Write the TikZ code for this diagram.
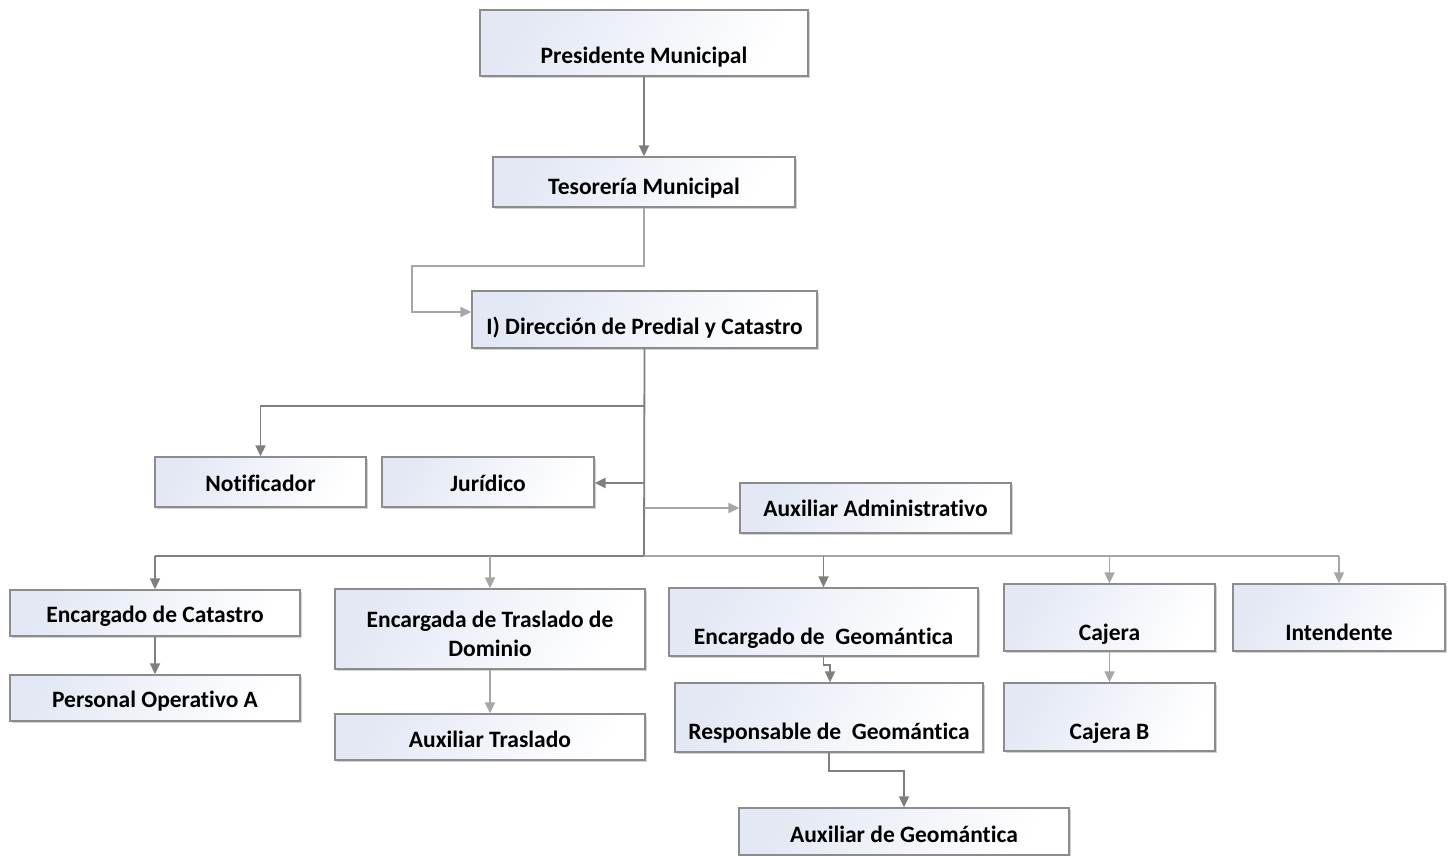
\documentclass[tikz,border=0pt]{standalone}
\usepackage{fontspec}
\setmainfont{Carlito}[Ligatures={NoCommon}]
\usetikzlibrary{arrows.meta,shadows}
\definecolor{linedark}{HTML}{7F7F7F}
\definecolor{linelight}{HTML}{A6A6A6}
\definecolor{boxborder}{HTML}{8C8C8C}
\definecolor{boxtop}{HTML}{E3E8F4}
\tikzset{
  orgbox/.style={draw=boxborder, line width=1.3pt, top color=boxtop, bottom color=white, shading angle=60,
    drop shadow={opacity=0.35, shadow xshift=1.8pt, shadow yshift=-1.8pt}, inner sep=0pt},
  lblbase/.style={font=\fontsize{23.5}{29}\selectfont\bfseries, inner sep=0pt, align=center, text=black},
  lbl/.style={lblbase, text height=22pt, text depth=5pt},
  darkarrow/.style={draw=linedark, line width=1.8pt, -{Triangle[length=11pt,width=10pt]}},
  lightarrow/.style={draw=linelight, line width=1.8pt, -{Triangle[length=11pt,width=10pt]}},
  darkline/.style={draw=linedark, line width=1.8pt},
}
\begin{document}
\begin{tikzpicture}[x=1pt,y=-1pt]
\useasboundingbox (0,0) rectangle (1453,856);
% boxes
\node[orgbox, minimum width=328pt, minimum height=66pt] (pm) at (644,43) {};
\node[lbl] (pmT) at (644,55) {Presidente Municipal};
\node[orgbox, minimum width=302pt, minimum height=50pt] (tm) at (644,182) {};
\node[lbl] (tmT) at (644,186) {Tesorería Municipal};
\node[orgbox, minimum width=345pt, minimum height=57pt] (dir) at (644.5,319.5) {};
\node[lbl] (dirT) at (644.5,326) {I) Dirección de Predial y Catastro};
\node[orgbox, minimum width=211pt, minimum height=50pt] (not) at (260.5,482) {};
\node[lbl] (notT) at (260.5,483) {Notificador};
\node[orgbox, minimum width=212pt, minimum height=50pt] (jur) at (488,482) {};
\node[lbl] (jurT) at (488,483) {Jurídico};
\node[orgbox, minimum width=271pt, minimum height=50pt] (aa) at (875.5,508) {};
\node[lbl] (aaT) at (875.5,508) {Auxiliar Administrativo};
\node[orgbox, minimum width=290pt, minimum height=46pt] (cat) at (155,613) {};
\node[lbl] (catT) at (155,614) {Encargado de Catastro};
\node[orgbox, minimum width=310pt, minimum height=80pt] (tras) at (490,629) {};
\node[lblbase] (trasT) at (490,634) {Encargada de Traslado de\\Dominio};
\node[orgbox, minimum width=309pt, minimum height=68pt] (geo) at (823.5,622) {};
\node[lbl] (geoT) at (823.5,636) {Encargado de\ \ Geomántica};
\node[orgbox, minimum width=211pt, minimum height=67pt] (caj) at (1109.5,617.5) {};
\node[lbl] (cajT) at (1109.5,632) {Cajera};
\node[orgbox, minimum width=212pt, minimum height=67pt] (int) at (1339,617.5) {};
\node[lbl] (intT) at (1339,632) {Intendente};
\node[orgbox, minimum width=290pt, minimum height=46pt] (pop) at (155,698) {};
\node[lbl] (popT) at (155,699) {Personal Operativo A};
\node[orgbox, minimum width=310pt, minimum height=46pt] (atr) at (490,737) {};
\node[lbl] (atrT) at (490,739) {Auxiliar Traslado};
\node[orgbox, minimum width=308pt, minimum height=69pt] (resp) at (829,717.5) {};
\node[lbl] (respT) at (829,731) {Responsable de\ \ Geomántica};
\node[orgbox, minimum width=330pt, minimum height=47pt] (ag) at (904,831.5) {};
\node[lbl] (agT) at (904,834) {Auxiliar de Geomántica};
\node[orgbox, minimum width=211pt, minimum height=68pt] (cajb) at (1109.5,717) {};
\node[lbl] (cajbT) at (1109.5,731) {Cajera B};
% helper coordinates
\coordinate (t1) at (412,266);
\coordinate (trunkend) at (644,556);
\coordinate (bn) at (644,406);
\coordinate (bj) at (644,483);
\coordinate (ba) at (644,508);
\coordinate (busL) at (155,556);
\coordinate (busR) at (1339,556);
\coordinate (g1) at (830,665);
\coordinate (r1) at (904,771);
% connectors
\draw[darkarrow] (pm.south) -- (tm.north);
\draw[lightarrow] (tm.south) |- (t1) |- ([yshift=7.5pt]dir.west);
\draw[darkline] (dir.south) -- (trunkend);
\draw[darkarrow] (bn) -| (not.north);
\draw[darkarrow, line width=2.2pt] (bj) -- (bj -| jur.east);
\draw[lightarrow] (ba) -- (ba -| aa.west);
\draw[darkline] (busL) -- (trunkend);
\draw[draw=linelight, line width=1.8pt] (trunkend) -- (busR);
\draw[darkarrow] (busL) -- (cat.north);
\draw[lightarrow] (trunkend -| tras.north) -- (tras.north);
\draw[darkarrow] (trunkend -| geo.north) -- (geo.north);
\draw[lightarrow] (trunkend -| caj.north) -- (caj.north);
\draw[lightarrow] (busR) -- (int.north);
\draw[darkarrow] (cat.south) -- (pop.north);
\draw[lightarrow] (tras.south) -- (atr.north);
\draw[darkarrow] (geo.south) |- (g1) -- (g1 |- resp.north);
\draw[darkarrow] (resp.south) |- (r1) -- (ag.north);
\draw[lightarrow] (caj.south) -- (cajb.north);
\end{tikzpicture}
\end{document}
